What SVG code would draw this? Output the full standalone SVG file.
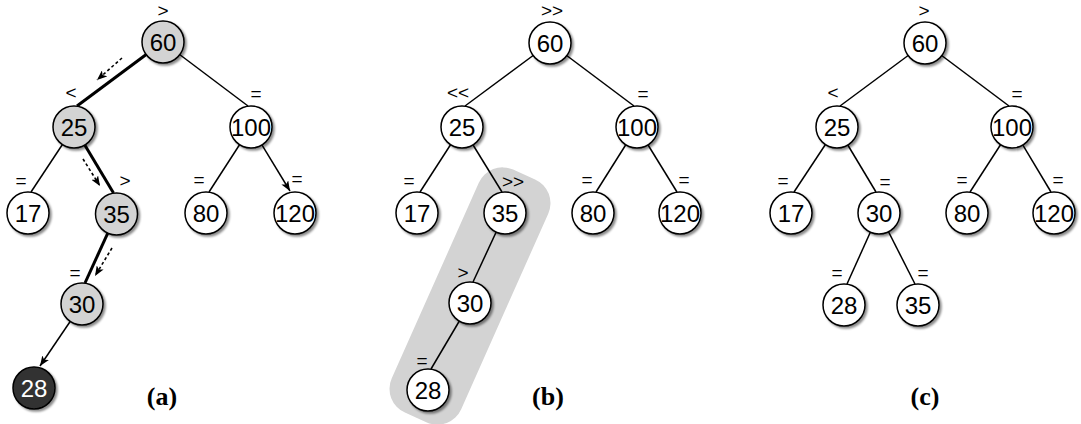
<svg xmlns="http://www.w3.org/2000/svg" width="1081" height="424" viewBox="0 0 1081 424">
<defs>
<filter id="sh" x="-30%" y="-30%" width="170%" height="170%">
<feDropShadow dx="2" dy="2" stdDeviation="1" flood-color="#000" flood-opacity="0.45"/>
</filter>
<marker id="ah" viewBox="0 0 10 8" refX="10" refY="4" markerWidth="10" markerHeight="8" markerUnits="userSpaceOnUse" orient="auto">
<path d="M0,0 L10,4 L0,8 L2.5,4 Z" fill="#000"/>
</marker>
</defs>
<style>
.n circle{fill:#fff;stroke:#000;stroke-width:1.5;filter:url(#sh)}
.n text{font-family:"Liberation Sans",Arial,sans-serif;font-size:24px;text-anchor:middle;fill:#000}
.g circle{fill:#d3d3d3}
.d circle{fill:#333}
.d text{fill:#fff}
.e line{stroke:#000;stroke-width:1.5;fill:none}
.e line.t{stroke-width:3}
.e line.a{marker-end:url(#ah)}
.e line.ds{stroke-width:1.6;stroke-dasharray:3,2.5}
.l{font-family:"Liberation Sans",Arial,sans-serif;font-size:19px;text-anchor:middle;fill:#000}
.cap{font-family:"Liberation Serif","Times New Roman",serif;font-size:26px;font-weight:bold;text-anchor:middle;fill:#000}
</style>
<rect width="1081" height="424" fill="#fff"/>
<rect id="band" x="-38" y="-133" width="76" height="266" rx="26" fill="#d3d3d3" transform="translate(470,296) rotate(24)"/>
<g id="connectors" class="e">
<line class="t" x1="163" y1="42" x2="77" y2="106"/>
<line x1="163" y1="42" x2="248" y2="106"/>
<line x1="74" y1="127" x2="31" y2="192"/>
<line class="t" x1="74" y1="127" x2="113.5" y2="193"/>
<line x1="251" y1="127" x2="209" y2="192"/>
<line class="a" x1="251" y1="127" x2="290" y2="191"/>
<line class="t" x1="116.5" y1="214" x2="85" y2="283"/>
<line class="a" x1="82" y1="304" x2="40" y2="366"/>
<line class="ds a" x1="122" y1="58" x2="97" y2="80"/>
<line class="ds a" x1="83" y1="159" x2="100" y2="186"/>
<line class="ds a" x1="112" y1="248" x2="95" y2="276"/>
<line x1="550" y1="43" x2="465" y2="106"/>
<line x1="550" y1="43" x2="634" y2="106"/>
<line x1="462" y1="127" x2="420" y2="192"/>
<line x1="462" y1="127" x2="502" y2="192"/>
<line x1="637" y1="127" x2="596" y2="192"/>
<line x1="637" y1="127" x2="677" y2="192"/>
<line x1="505" y1="213" x2="473" y2="282"/>
<line x1="470" y1="303" x2="431" y2="369"/>
<line x1="925" y1="43" x2="840" y2="106"/>
<line x1="925" y1="43" x2="1009" y2="106"/>
<line x1="837" y1="127" x2="794" y2="192"/>
<line x1="837" y1="127" x2="876" y2="192"/>
<line x1="1012" y1="127" x2="970" y2="192"/>
<line x1="1012" y1="127" x2="1051" y2="192"/>
<line x1="879" y1="213" x2="847" y2="284"/>
<line x1="879" y1="213" x2="915" y2="284"/>
</g>
<g id="a60" class="n g"><circle cx="163" cy="42" r="21"/><text x="163" y="50.5">60</text></g>
<g id="a25" class="n g"><circle cx="74" cy="127" r="21"/><text x="74" y="135.5">25</text></g>
<g id="a100" class="n"><circle cx="251" cy="127" r="21"/><text x="251" y="135.5">100</text></g>
<g id="a17" class="n"><circle cx="28" cy="213" r="21"/><text x="28" y="221.5">17</text></g>
<g id="a35" class="n g"><circle cx="116.5" cy="214" r="21"/><text x="116.5" y="222.5">35</text></g>
<g id="a80" class="n"><circle cx="206" cy="213" r="21"/><text x="206" y="221.5">80</text></g>
<g id="a120" class="n"><circle cx="295" cy="213" r="21"/><text x="295" y="221.5">120</text></g>
<g id="a30" class="n g"><circle cx="82" cy="304" r="21"/><text x="82" y="312.5">30</text></g>
<g id="a28" class="n d"><circle cx="34" cy="388" r="21"/><text x="34" y="396.5">28</text></g>
<g id="b60" class="n"><circle cx="550" cy="43" r="21"/><text x="550" y="51.5">60</text></g>
<g id="b25" class="n"><circle cx="462" cy="127" r="21"/><text x="462" y="135.5">25</text></g>
<g id="b100" class="n"><circle cx="637" cy="127" r="21"/><text x="637" y="135.5">100</text></g>
<g id="b17" class="n"><circle cx="417" cy="213" r="21"/><text x="417" y="221.5">17</text></g>
<g id="b35" class="n"><circle cx="505" cy="213" r="21"/><text x="505" y="221.5">35</text></g>
<g id="b80" class="n"><circle cx="593" cy="213" r="21"/><text x="593" y="221.5">80</text></g>
<g id="b120" class="n"><circle cx="680" cy="213" r="21"/><text x="680" y="221.5">120</text></g>
<g id="b30" class="n"><circle cx="470" cy="303" r="21"/><text x="470" y="311.5">30</text></g>
<g id="b28" class="n"><circle cx="428" cy="390" r="21"/><text x="428" y="398.5">28</text></g>
<g id="c60" class="n"><circle cx="925" cy="43" r="21"/><text x="925" y="51.5">60</text></g>
<g id="c25" class="n"><circle cx="837" cy="127" r="21"/><text x="837" y="135.5">25</text></g>
<g id="c100" class="n"><circle cx="1012" cy="127" r="21"/><text x="1012" y="135.5">100</text></g>
<g id="c17" class="n"><circle cx="791" cy="213" r="21"/><text x="791" y="221.5">17</text></g>
<g id="c30" class="n"><circle cx="879" cy="213" r="21"/><text x="879" y="221.5">30</text></g>
<g id="c80" class="n"><circle cx="967" cy="213" r="21"/><text x="967" y="221.5">80</text></g>
<g id="c120" class="n"><circle cx="1054" cy="213" r="21"/><text x="1054" y="221.5">120</text></g>
<g id="c28" class="n"><circle cx="844" cy="305" r="21"/><text x="844" y="313.5">28</text></g>
<g id="c35" class="n"><circle cx="918" cy="305" r="21"/><text x="918" y="313.5">35</text></g>
<g id="labels">
<text class="l" x="163" y="17">&gt;</text>
<text class="l" x="71" y="99">&lt;</text>
<text class="l" x="256" y="100">=</text>
<text class="l" x="21" y="187">=</text>
<text class="l" x="125" y="187">&gt;</text>
<text class="l" x="199" y="186">=</text>
<text class="l" x="297" y="185">=</text>
<text class="l" x="75" y="279">=</text>
<text class="l" x="552" y="17">&gt;&gt;</text>
<text class="l" x="458" y="99">&lt;&lt;</text>
<text class="l" x="643" y="100">=</text>
<text class="l" x="409" y="187">=</text>
<text class="l" x="513" y="188">&gt;&gt;</text>
<text class="l" x="587" y="186">=</text>
<text class="l" x="684" y="186">=</text>
<text class="l" x="463" y="279">&gt;</text>
<text class="l" x="422" y="367">=</text>
<text class="l" x="924" y="17">&gt;</text>
<text class="l" x="833" y="99">&lt;</text>
<text class="l" x="1017" y="100">=</text>
<text class="l" x="783" y="187">=</text>
<text class="l" x="885" y="188">=</text>
<text class="l" x="962" y="186">=</text>
<text class="l" x="1058" y="186">=</text>
<text class="l" x="837" y="279">=</text>
<text class="l" x="923" y="279">=</text>
</g>
<text class="cap" x="162" y="405">(a)</text>
<text class="cap" x="548" y="405">(b)</text>
<text class="cap" x="925" y="405">(c)</text>
</svg>
